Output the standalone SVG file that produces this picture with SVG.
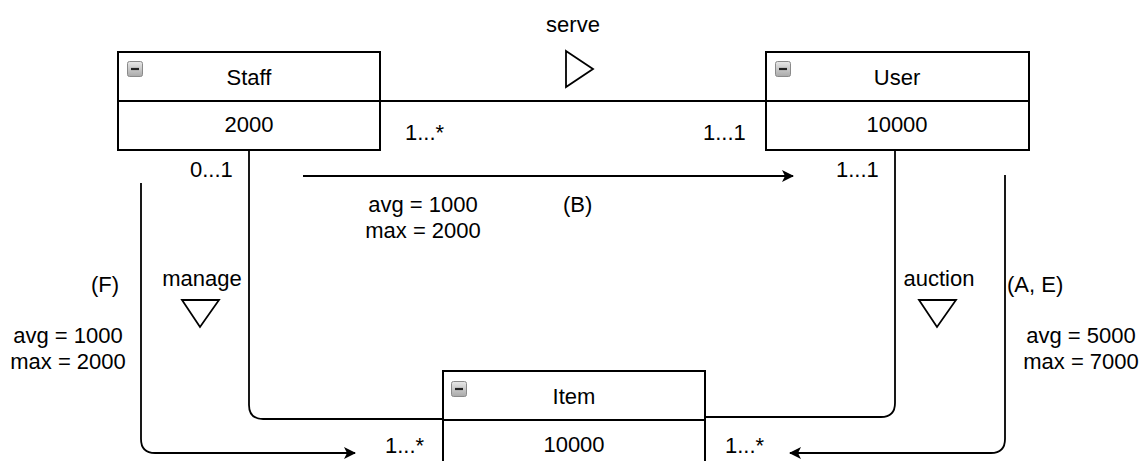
<svg xmlns="http://www.w3.org/2000/svg" width="1146" height="461" viewBox="0 0 1146 461">
<defs>
<style>
text{font-family:"Liberation Sans",Arial,sans-serif;font-size:22px;fill:#000}
.c{text-anchor:middle}
.box{fill:#fff;stroke:#000;stroke-width:2}
.ln{fill:none;stroke:#000;stroke-width:1.8}
.tri{fill:#fff;stroke:#000;stroke-width:1.8}
.ic{fill:url(#g);stroke:#8a8a8a;stroke-width:1}
</style>
<linearGradient id="g" x1="0" y1="0" x2="0" y2="1"><stop offset="0" stop-color="#e8e8e8"/><stop offset="1" stop-color="#a9a9a9"/></linearGradient>
<marker id="ar" viewBox="0 0 12 12" refX="11" refY="6" markerWidth="12" markerHeight="12" markerUnits="userSpaceOnUse" orient="auto">
<path d="M0,0 L12,6 L0,12 L3,6 Z" fill="#000"/>
</marker>
</defs>
<g id="connectors">
<path class="ln" d="M380,101 H766"/>
<path class="ln" d="M303,176 H793" marker-end="url(#ar)"/>
<path class="ln" d="M249,150 V405 Q249,419 263,419 H443"/>
<path class="ln" d="M895,150 V403 Q895,417 881,417 H705"/>
<path class="ln" d="M141,183 V439 Q141,453 155,453 H355" marker-end="url(#ar)"/>
<path class="ln" d="M1005,175 V439 Q1005,453 991,453 H790" marker-end="url(#ar)"/>
</g>
<g id="staff">
<rect class="box" x="118" y="52" width="262" height="98"/>
<line class="ln" x1="118" y1="101" x2="380" y2="101" stroke-width="2"/>
<rect class="ic" x="127.5" y="61.5" width="15" height="15" rx="2"/>
<line x1="131" y1="69" x2="139" y2="69" stroke="#222" stroke-width="2.2"/>
<text class="c" x="249" y="85">Staff</text>
<text class="c" x="249" y="132">2000</text>
</g>
<g id="user">
<rect class="box" x="766" y="52" width="263" height="98"/>
<line class="ln" x1="766" y1="101" x2="1029" y2="101" stroke-width="2"/>
<rect class="ic" x="775.5" y="61.5" width="15" height="15" rx="2"/>
<line x1="779" y1="69" x2="787" y2="69" stroke="#222" stroke-width="2.2"/>
<text class="c" x="897" y="85">User</text>
<text class="c" x="897" y="132">10000</text>
</g>
<g id="item">
<rect class="box" x="443" y="371" width="262" height="100"/>
<line class="ln" x1="443" y1="420" x2="705" y2="420" stroke-width="2"/>
<rect class="ic" x="451.5" y="381.5" width="15" height="15" rx="2"/>
<line x1="455" y1="389" x2="463" y2="389" stroke="#222" stroke-width="2.2"/>
<text class="c" x="574" y="404">Item</text>
<text class="c" x="574" y="452">10000</text>
</g>
<g id="labels">
<text class="c" x="573" y="32">serve</text>
<polygon class="tri" points="566,51 593,69 566,87"/>
<text x="405" y="140">1...*</text>
<text x="703" y="140">1...1</text>
<text x="190" y="177">0...1</text>
<text x="836" y="177">1...1</text>
<text class="c" x="423" y="212">avg = 1000</text>
<text class="c" x="423" y="238">max = 2000</text>
<text x="563" y="212">(B)</text>
<text x="91" y="292">(F)</text>
<text class="c" x="202" y="286">manage</text>
<polygon class="tri" points="182,300 219,300 200,327"/>
<text class="c" x="939" y="286">auction</text>
<polygon class="tri" points="919,300 956,300 937,327"/>
<text x="1007" y="292">(A, E)</text>
<text class="c" x="68" y="343">avg = 1000</text>
<text class="c" x="68" y="369">max = 2000</text>
<text class="c" x="1081" y="343">avg = 5000</text>
<text class="c" x="1081" y="369">max = 7000</text>
<text x="385" y="453">1...*</text>
<text x="725" y="453">1...*</text>
</g>
</svg>
